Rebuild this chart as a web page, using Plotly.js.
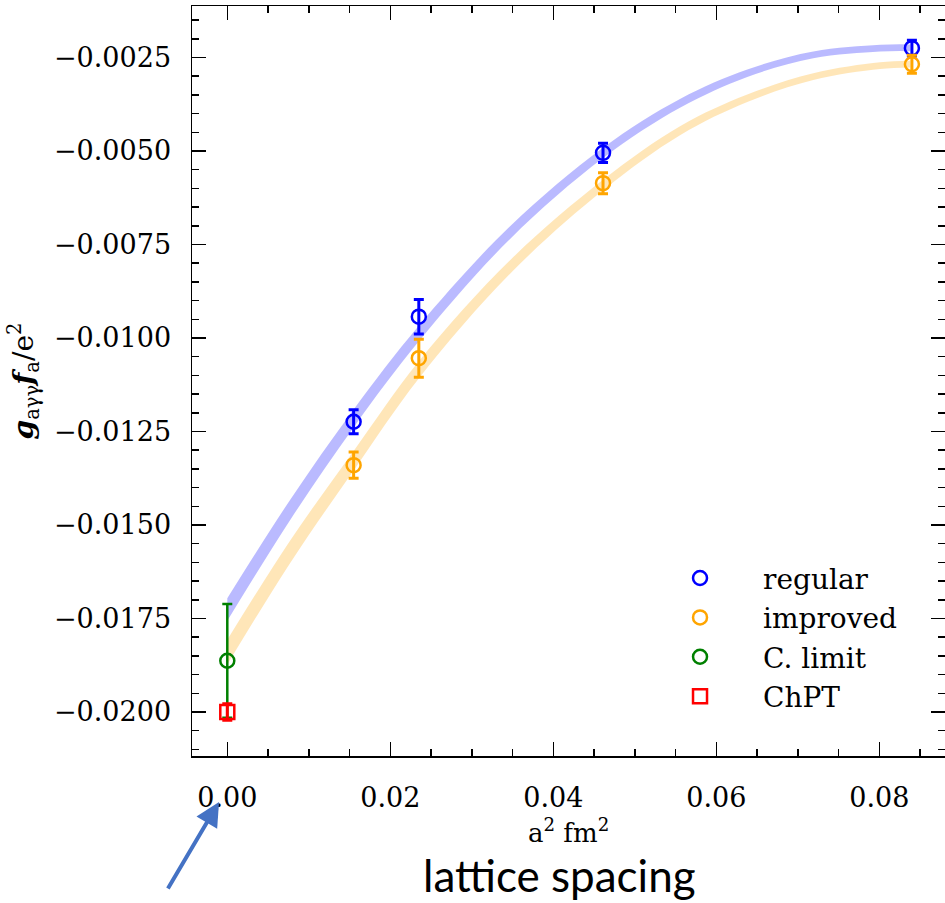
<!DOCTYPE html>
<html>
<head>
<meta charset="utf-8">
<script src="https://cdn.plot.ly/plotly-3.0.1.min.js"></script>
<style>html,body{margin:0;padding:0;background:#fff;}#chart{width:945px;height:903px;}</style>
</head>
<body>
<div id="chart"></div>
<script>
// lattice spacings a^2 (fm^2)
const a2 = [0.0155, 0.0235, 0.0461, 0.0840];
const regularY = [-0.01224, -0.00943, -0.00505, -0.00225];
const regularErr = [0.00032, 0.00046, 0.00026, 0.00021];
const improvedY = [-0.01340, -0.01054, -0.00586, -0.00268];
const improvedErr = [0.00035, 0.00051, 0.00028, 0.00024];
const climitX = [0.0];
const climitY = [-0.01863];
const climitErr = [0.00152];
const chptX = [0.0];
const chptY = [-0.02000];
const chptErr = [0.00022];

// fit bands
const bandX = [0, 0.0077, 0.0155, 0.0235, 0.0347, 0.0461, 0.0556, 0.0638, 0.0719, 0.0801, 0.0838];
const regularBandMid = [-0.01726, -0.01460, -0.01215, -0.00988, -0.00718, -0.00505, -0.00372, -0.00292, -0.00243, -0.00225, -0.00224];
const regularBandHalf = [0.00030, 0.00027, 0.00024, 0.00021, 0.00017, 0.00014, 0.00012, 0.00010, 0.00009, 0.00009, 0.00009];
const improvedBandMid = [-0.01840, -0.01572, -0.01328, -0.01085, -0.00810, -0.00591, -0.00445, -0.00359, -0.00301, -0.00272, -0.00268];
const improvedBandHalf = [0.00033, 0.00030, 0.00026, 0.00023, 0.00018, 0.00014, 0.00012, 0.00010, 0.00009, 0.00009, 0.00009];

const serif = 'DejaVu Serif, serif';

function band(mid, half, color) {
  const lo = mid.map((v, i) => v - half[i]);
  const hi = mid.map((v, i) => v + half[i]);
  return [
    {x: bandX, y: lo, mode: 'lines', line: {width: 0, shape: 'spline', smoothing: 1, color: color}, showlegend: false, hoverinfo: 'skip'},
    {x: bandX, y: hi, mode: 'lines', line: {width: 0, shape: 'spline', smoothing: 1, color: color}, fill: 'tonexty', fillcolor: color, showlegend: false, hoverinfo: 'skip'}
  ];
}

function pts(name, x, y, err, color, symbol, size, thick) {
  return {
    name: name, x: x, y: y, mode: 'markers', type: 'scatter',
    marker: {symbol: symbol, size: size, color: color, line: {color: color, width: 2.5}},
    error_y: {type: 'data', array: err, visible: true, color: color, thickness: thick, width: 5}
  };
}

const data = [
  ...band(regularBandMid, regularBandHalf, 'rgba(0,0,255,0.27)'),
  ...band(improvedBandMid, improvedBandHalf, 'rgba(255,165,0,0.28)'),
  pts('regular', a2, regularY, regularErr, '#0000ff', 'circle-open', 14, 3),
  pts('improved', a2, improvedY, improvedErr, '#ffa500', 'circle-open', 14, 3),
  pts('C. limit', climitX, climitY, climitErr, '#008000', 'circle-open', 14, 2.5),
  pts('ChPT', chptX, chptY, chptErr, '#ff0000', 'square-open', 14, 3)
];

const axisCommon = {
  showgrid: false, zeroline: false, showline: true, linecolor: '#000', linewidth: 1.5,
  mirror: 'ticks', ticks: 'inside', ticklen: 14, tickwidth: 1.5, tickcolor: '#000',
  tickfont: {family: serif, size: 27, color: '#000'}
};

const layout = {
  width: 945, height: 903,
  margin: {l: 192, r: 0, t: 6, b: 147},
  paper_bgcolor: '#fff', plot_bgcolor: '#fff',
  showlegend: true,
  legend: {
    x: 0.591, y: 0.2703, xanchor: 'left', yanchor: 'top', traceorder: 'normal',
    bgcolor: 'rgba(0,0,0,0)', borderwidth: 0, itemwidth: 116,
    font: {family: serif, size: 28, color: '#000'}
  },
  xaxis: Object.assign({}, axisCommon, {
    range: [-0.00433, 0.08806], dtick: 0.02, tick0: 0, tickformat: '.2f',
    ticklabelstandoff: 17,
    minor: {dtick: 0.005, ticklen: 7, tickwidth: 1.5, tickcolor: '#000', ticks: 'inside', showgrid: false}
  }),
  yaxis: Object.assign({}, axisCommon, {
    range: [-0.021176, -0.001123], dtick: 0.0025, tick0: 0, tickformat: '.4f',
    ticklabelstandoff: 14,
    minor: {dtick: 0.0005, ticklen: 7, tickwidth: 1.5, tickcolor: '#000', ticks: 'inside', showgrid: false},
    title: {text: '<b><i>g</i></b><sub>aγγ</sub><b><i>f</i></b><sub>a</sub>/e<sup>2</sup>', font: {family: serif, size: 28, color: '#000'}, standoff: 12}
  }),
  annotations: [
    {xref: 'paper', yref: 'paper', x: 0.5, y: -0.1, xanchor: 'center', yanchor: 'middle',
     text: 'a<sup>2</sup> fm<sup>2</sup>', showarrow: false, font: {family: serif, size: 26, color: '#000'}},
    {xref: 'paper', yref: 'paper', x: 0.4887, y: -0.196, xanchor: 'center', yanchor: 'bottom',
     text: 'lattice spacing', showarrow: false, font: {family: 'Lato, sans-serif', size: 44, color: '#000'}},
    {xref: 'paper', yref: 'paper', x: 0.0359, y: -0.0613, text: '', showarrow: true,
     ax: -52, ay: 88, axref: 'pixel', ayref: 'pixel', arrowcolor: '#4472C4', arrowwidth: 4, arrowhead: 2, arrowsize: 1.2}
  ]
};

Plotly.newPlot('chart', data, layout, {displayModeBar: false, staticPlot: true});
</script>
</body>
</html>
